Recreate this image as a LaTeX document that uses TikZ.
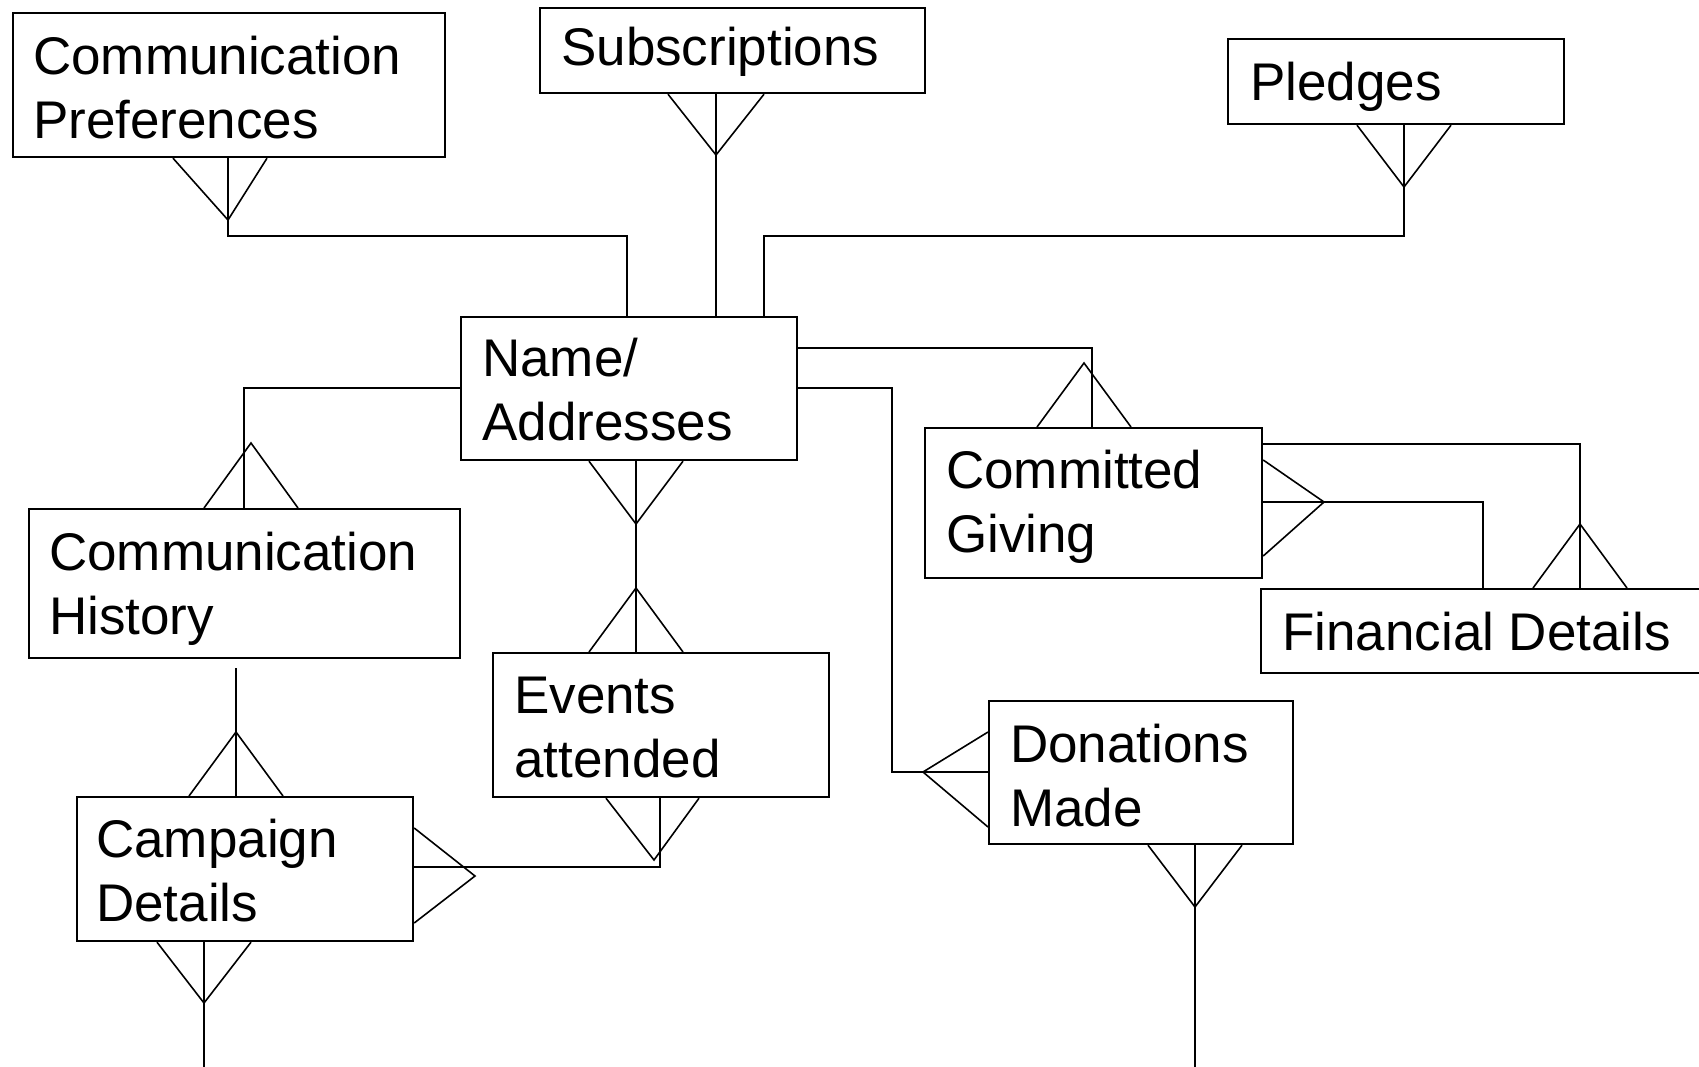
\documentclass[tikz,border=0pt]{standalone}
\usepackage{fontspec}
\setmainfont{Liberation Sans}
\usetikzlibrary{calc}
\tikzset{
  entbox/.style n args={2}{draw, line width=2.2pt, inner sep=0pt, anchor=north west,
     minimum width=#1, minimum height=#2},
  txt/.style={inner sep=0pt, anchor=north west, align=left,
     font=\fontsize{53}{64}\selectfont},
  conn/.style={line width=1.6pt, line join=miter}
}
\newcommand\crowv[3]{\draw[conn] ($(#1 -| #2)+(-#3,0)$) -- (#2) -- ($(#1 -| #2)+(#3,0)$);}
\begin{document}
\begin{tikzpicture}[x=1pt,y=-1pt]
\clip (0,0) rectangle (1699,1066);
\fill[white] (0,0) rectangle (1699,1066);

% entity boxes
\node[entbox={432}{144}] (cp) at (12,12) {};
\node[entbox={385}{85}]  (sub) at (539,7) {};
\node[entbox={336}{85}]  (pl) at (1227,38) {};
\node[entbox={336}{143}] (na) at (460,316) {};
\node[entbox={431}{149}] (ch) at (28,508) {};
\node[entbox={336}{144}] (ev) at (492,652) {};
\node[entbox={336}{144}] (cd) at (76,796) {};
\node[entbox={337}{150}] (cg) at (924,427) {};
\node[entbox={460}{84}]  (fd) at (1260,588) {};
\node[entbox={304}{143}] (dm) at (988,700) {};

% texts (north = first baseline - 44.8)
\node[txt] (tcp) at (33,29.2) {\strut Communication\\\strut Preferences};
\node[txt] (tsub) at (561,20.2) {\strut Subscriptions};
\node[txt] (tpl) at (1250,55.2) {\strut Pledges};
\node[txt] (tna) at (482,331.2) {\strut Name/\\\strut Addresses};
\node[txt] (tch) at (49,525.2) {\strut Communication\\\strut History};
\node[txt] (tev) at (514,668.2) {\strut Events\\\strut attended};
\node[txt] (tcd) at (96,812.2) {\strut Campaign\\\strut Details};
\node[txt] (tcg) at (946,443.2) {\strut Committed\\\strut Giving};
\node[txt] (tfd) at (1282,605.2) {\strut Financial Details};
\node[txt] (tdm) at (1010,717.2) {\strut Donations\\\strut Made};

% junction / apex coordinates
\coordinate (A1) at (228,220);
\coordinate (j1) at (627,236);
\coordinate (A2) at (716,155);
\coordinate (A3) at (1404,187);
\coordinate (j3) at (764,236);
\coordinate (j4) at (1092,348);
\coordinate (A4) at (1084,363);
\coordinate (j5) at (244,388);
\coordinate (A5) at (251,443);
\coordinate (A6) at (636,524);
\coordinate (A7) at (636,588);
\coordinate (j7) at (892,388);
\coordinate (A8) at (923,772);
\coordinate (j8) at (1580,444);
\coordinate (A9) at (1580,524);
\coordinate (A10) at (1324,502);
\coordinate (j9) at (1483,502);
\coordinate (j10) at (236,668);
\coordinate (A11) at (236,732);
\coordinate (A12) at (654,860);
\coordinate (j11) at (660,867);
\coordinate (A13) at (475,876);
\coordinate (A14) at (204,1003);
\coordinate (e1) at (204,1070);
\coordinate (A15) at (1195,907);
\coordinate (e2) at (1195,1070);

% Communication Preferences -- Name/Addresses
\draw[conn] ($(cp.south west)+(161,0)$) -- (A1) -- ($(cp.south west)+(255,0)$);
\draw[conn] (cp.south -| A1) -- (A1) |- (j1) -- (na.north -| j1);
% Subscriptions -- Name/Addresses
\crowv{sub.south}{A2}{48}
\draw[conn] (sub.south -| A2) -- (na.north -| A2);
% Pledges -- Name/Addresses
\crowv{pl.south}{A3}{47}
\draw[conn] (pl.south -| A3) -- (A3) |- (j3) -- (na.north -| j3);
% Name/Addresses -- Committed Giving
\draw[conn] (na.east |- j4) -| (cg.north -| j4);
\crowv{cg.north}{A4}{47}
% Name/Addresses -- Communication History
\draw[conn] (na.west |- j5) -| (ch.north -| j5);
\crowv{ch.north}{A5}{47}
% Name/Addresses -- Events attended
\crowv{na.south}{A6}{47}
\crowv{ev.north}{A7}{47}
\draw[conn] (na.south -| A6) -- (ev.north -| A6);
% Name/Addresses -- Donations Made
\draw[conn] (na.east |- j7) -- (j7) |- (dm.west |- A8);
\draw[conn] ($(dm.north west)+(0,32)$) -- (A8) -- ($(dm.north west)+(0,127)$);
% Committed Giving -- Financial Details
\draw[conn] (cg.north east |- j8) -| (fd.north -| j8);
\crowv{fd.north}{A9}{47}
\draw[conn] (cg.east |- A10) -- (j9) -- (fd.north -| j9);
\draw[conn] ($(cg.north east)+(0,33)$) -- (A10) -- ($(cg.north east)+(0,129)$);
% Communication History -- Campaign Details
\draw[conn] (j10) -- (cd.north -| j10);
\crowv{cd.north}{A11}{47}
% Events attended -- Campaign Details
\draw[conn] ($(ev.south west)+(114,0)$) -- (A12) -- ($(ev.south west)+(207,0)$);
\draw[conn] (ev.south -| j11) -- (j11) -- (cd.east |- j11);
\draw[conn] ($(cd.north east)+(0,32)$) -- (A13) -- ($(cd.north east)+(0,127)$);
% Campaign Details -- (below)
\crowv{cd.south}{A14}{47}
\draw[conn] (cd.south -| A14) -- (e1);
% Donations Made -- (below)
\crowv{dm.south}{A15}{47}
\draw[conn] (dm.south -| A15) -- (e2);
\end{tikzpicture}
\end{document}
